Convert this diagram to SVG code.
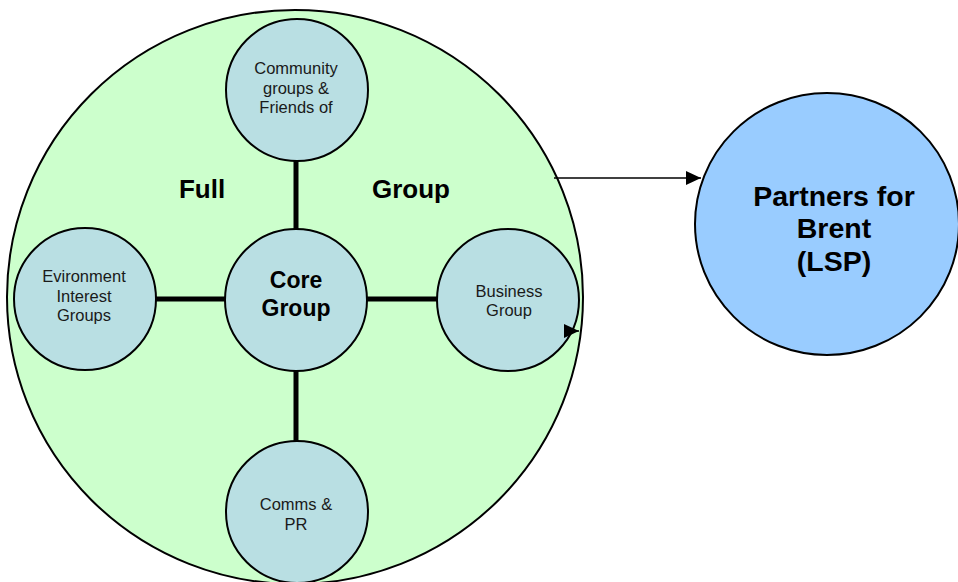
<svg xmlns="http://www.w3.org/2000/svg" width="958" height="582" viewBox="0 0 958 582">
<style>
.node{fill:#B9DFE3;stroke:#000;stroke-width:2}
.lbl{font-family:"Liberation Sans",Arial,sans-serif;font-size:16.5px;fill:#1a1a1a;text-anchor:middle}
.bold{font-family:"Liberation Sans",Arial,sans-serif;font-weight:bold;fill:#000;text-anchor:middle}
.thick{stroke:#000;stroke-width:5;fill:none}
.arrow{stroke:#000;stroke-width:1.5;fill:none}
</style>
<defs>
<marker id="ah" markerUnits="userSpaceOnUse" markerWidth="16" markerHeight="16" refX="15" refY="7" orient="auto">
<path d="M0,0 L15,7 L0,14 Z" fill="#000"/>
</marker>
</defs>
<g id="full-group">
<ellipse cx="295" cy="297" rx="288" ry="287" fill="#CCFFCC" stroke="#000" stroke-width="2"/>
<text class="bold" x="202" y="198" font-size="26">Full</text>
<text class="bold" x="411" y="198" font-size="26">Group</text>
</g>
<g id="connectors-lines">
<line class="thick" x1="296" y1="155" x2="296" y2="235"/>
<line class="thick" x1="296" y1="365" x2="296" y2="445"/>
<line class="thick" x1="150" y1="299" x2="230" y2="299"/>
<line class="thick" x1="362" y1="299" x2="442" y2="299"/>
</g>
<g id="community">
<circle class="node" cx="297" cy="90" r="71"/>
<text class="lbl" x="296" y="74">Community</text>
<text class="lbl" x="296" y="93.5">groups &amp;</text>
<text class="lbl" x="296" y="113">Friends of</text>
</g>
<g id="environment">
<circle class="node" cx="85" cy="299" r="71"/>
<text class="lbl" x="84" y="282">Evironment</text>
<text class="lbl" x="84" y="302">Interest</text>
<text class="lbl" x="84" y="321">Groups</text>
</g>
<g id="core">
<circle class="node" cx="296" cy="300" r="71"/>
<text class="bold" x="296" y="288" font-size="23">Core</text>
<text class="bold" x="296" y="316" font-size="23">Group</text>
</g>
<g id="business">
<circle class="node" cx="508" cy="300" r="71"/>
<text class="lbl" x="509" y="297">Business</text>
<text class="lbl" x="509" y="316">Group</text>
</g>
<g id="comms">
<circle class="node" cx="297" cy="512" r="71"/>
<text class="lbl" x="296" y="510">Comms &amp;</text>
<text class="lbl" x="296" y="530">PR</text>
</g>
<g id="partners">
<ellipse cx="827" cy="224" rx="132" ry="131" fill="#99CCFF" stroke="#000" stroke-width="2"/>
<text class="bold" x="834" y="206" font-size="28.5">Partners for</text>
<text class="bold" x="834" y="238" font-size="28.5">Brent</text>
<text class="bold" x="834" y="271" font-size="28.5">(LSP)</text>
</g>
<g id="connectors-arrows">
<line class="arrow" x1="554" y1="178" x2="701" y2="178" marker-end="url(#ah)"/>
<line class="arrow" x1="566" y1="331" x2="579" y2="331" marker-end="url(#ah)"/>
</g>
</svg>
